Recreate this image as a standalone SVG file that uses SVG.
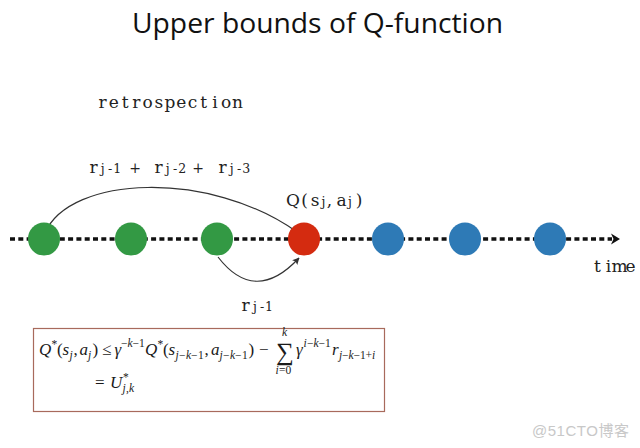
<svg xmlns="http://www.w3.org/2000/svg" width="640" height="448" viewBox="0 0 640 448">
<style>
.lbl{font-family:"DejaVu Serif","Liberation Serif",serif;fill:#222;font-size:17px;text-anchor:middle}
.sub{font-size:12.5px}
.plus{font-size:14px}
.math{font-family:"Liberation Serif","DejaVu Serif",serif;fill:#1a1a1a;font-size:17px}
.it{font-style:italic}
.sm{font-size:11.5px}
.arc{fill:none;stroke:#333;stroke-width:1.2}
.green{fill:#339944}
.red{fill:#d42b10}
.blue{fill:#2e7ab6}
</style>
<defs>
<marker id="ah" viewBox="0 0 10 10" refX="9" refY="5" markerWidth="7" markerHeight="7" markerUnits="userSpaceOnUse" orient="auto">
<path d="M0,0 L10,5 L0,10 L2,5 Z" fill="#333"/>
</marker>
</defs>
<rect width="640" height="448" fill="#ffffff"/>
<text x="132" y="33" font-family="'Open Sans','Noto Sans',sans-serif" font-size="28" fill="#111" textLength="371" lengthAdjust="spacingAndGlyphs">Upper bounds of Q-function</text>
<text class="lbl" x="102.6 113.8 125.1 136.3 147.5 158.8 170 181.2 192.4 203.7 214.9 226.1 237.4" y="108">retrospection</text>
<g id="connectors">
<line x1="10" y1="239" x2="612" y2="239" stroke="#111" stroke-width="3.5" stroke-dasharray="5 3.3"/>
<path d="M611,233.5 L620,239 L611,244.5 L613.5,239 Z" fill="#111"/>
<path class="arc" d="M45,233 C70,175 210,170 297,232" marker-end="url(#ah)"/>
<path class="arc" d="M218,257 Q255,305 299,258" marker-end="url(#ah)"/>
</g>
<g id="node-1"><ellipse class="green" cx="44" cy="239" rx="16" ry="16.5"/></g>
<g id="node-2"><ellipse class="green" cx="131" cy="239" rx="16" ry="16.5"/></g>
<g id="node-3"><ellipse class="green" cx="217" cy="239" rx="16" ry="16.5"/></g>
<g id="node-4"><ellipse class="red" cx="304" cy="239" rx="16" ry="16.5"/></g>
<g id="node-5"><ellipse class="blue" cx="388" cy="239" rx="16" ry="16.5"/></g>
<g id="node-6"><ellipse class="blue" cx="465" cy="239" rx="16" ry="16.5"/></g>
<g id="node-7"><ellipse class="blue" cx="550" cy="239" rx="16" ry="16.5"/></g>
<text class="lbl" y="173"><tspan x="93.5">r</tspan><tspan class="sub" x="102.7 110 117.3">j-1</tspan><tspan class="plus" x="135">+</tspan><tspan x="158.5">r</tspan><tspan class="sub" x="167.7 175 182.3">j-2</tspan><tspan class="plus" x="198">+</tspan><tspan x="222.5">r</tspan><tspan class="sub" x="231.7 239 246.3">j-3</tspan></text>
<text class="lbl" y="206"><tspan x="293 304.5 315">Q(s</tspan><tspan class="sub" x="323.5">j</tspan><tspan x="329.5">,</tspan><tspan x="341.5">a</tspan><tspan class="sub" x="350">j</tspan><tspan x="359">)</tspan></text>
<text class="lbl" y="311"><tspan x="245.5">r</tspan><tspan class="sub" x="255 262 269">j-1</tspan></text>
<text class="lbl" x="597.5 608.5 619.5 630.5" y="272">time</text>
<g id="formula">
<rect x="33.5" y="328.5" width="351" height="83" fill="#fff" stroke="#a86a5c" stroke-width="1.2"/>
<text class="math">
<tspan class="it" x="39" y="355">Q</tspan><tspan class="sm" x="51.5" y="348">*</tspan><tspan x="57" y="355">(</tspan><tspan class="it" x="62.5" y="355">s</tspan><tspan class="it sm" x="69.5" y="359">j</tspan><tspan x="73.5" y="355">,</tspan><tspan class="it" x="79.5" y="355">a</tspan><tspan class="it sm" x="88" y="359">j</tspan><tspan x="92.5" y="355">)</tspan><tspan x="102" y="355">≤</tspan><tspan class="it" x="114.5" y="355">γ</tspan><tspan class="sm" x="121" y="347">−</tspan><tspan class="it sm" x="127.5" y="347">k</tspan><tspan class="sm" x="132.5" y="347">−</tspan><tspan class="sm" x="139" y="347">1</tspan><tspan class="it" x="145" y="355">Q</tspan><tspan class="sm" x="157.5" y="348">*</tspan><tspan x="163" y="355">(</tspan><tspan class="it" x="168.5" y="355">s</tspan><tspan class="it sm" x="175.5" y="359">j</tspan><tspan class="sm" x="179" y="359">−</tspan><tspan class="it sm" x="186" y="359">k</tspan><tspan class="sm" x="191" y="359">−</tspan><tspan class="sm" x="198" y="359">1</tspan><tspan x="204.5" y="355">,</tspan><tspan class="it" x="211" y="355">a</tspan><tspan class="it sm" x="219.5" y="359">j</tspan><tspan class="sm" x="223" y="359">−</tspan><tspan class="it sm" x="230" y="359">k</tspan><tspan class="sm" x="235" y="359">−</tspan><tspan class="sm" x="242" y="359">1</tspan><tspan x="248.5" y="355">)</tspan><tspan x="259" y="355">−</tspan><tspan font-size="25" x="276" y="360">∑</tspan><tspan class="it sm" x="282" y="336">k</tspan><tspan class="it sm" x="275.5" y="374">i</tspan><tspan class="sm" x="279" y="374">=</tspan><tspan class="sm" x="285.5" y="374">0</tspan><tspan class="it" x="296" y="355">γ</tspan><tspan class="it sm" x="303.5" y="347">i</tspan><tspan class="sm" x="307" y="347">−</tspan><tspan class="it sm" x="313.5" y="347">k</tspan><tspan class="sm" x="318.5" y="347">−</tspan><tspan class="sm" x="325" y="347">1</tspan><tspan class="it" x="332" y="355">r</tspan><tspan class="it sm" x="339" y="359">j</tspan><tspan class="sm" x="342" y="359">−</tspan><tspan class="it sm" x="348.5" y="359">k</tspan><tspan class="sm" x="353.5" y="359">−</tspan><tspan class="sm" x="360" y="359">1</tspan><tspan class="sm" x="365.5" y="359">+</tspan><tspan class="it sm" x="372" y="359">i</tspan>
<tspan x="95" y="388">=</tspan><tspan class="it" x="110" y="388">U</tspan><tspan class="sm" x="123" y="381">*</tspan><tspan class="it sm" x="122.5" y="392">j</tspan><tspan class="sm" x="126" y="392">,</tspan><tspan class="it sm" x="129" y="392">k</tspan>
</text>
</g>
<text x="532" y="436" font-family="'Liberation Sans','Noto Sans CJK SC',sans-serif" font-size="15" fill="#c8c8c8" textLength="97">@51CTO博客</text>
</svg>
